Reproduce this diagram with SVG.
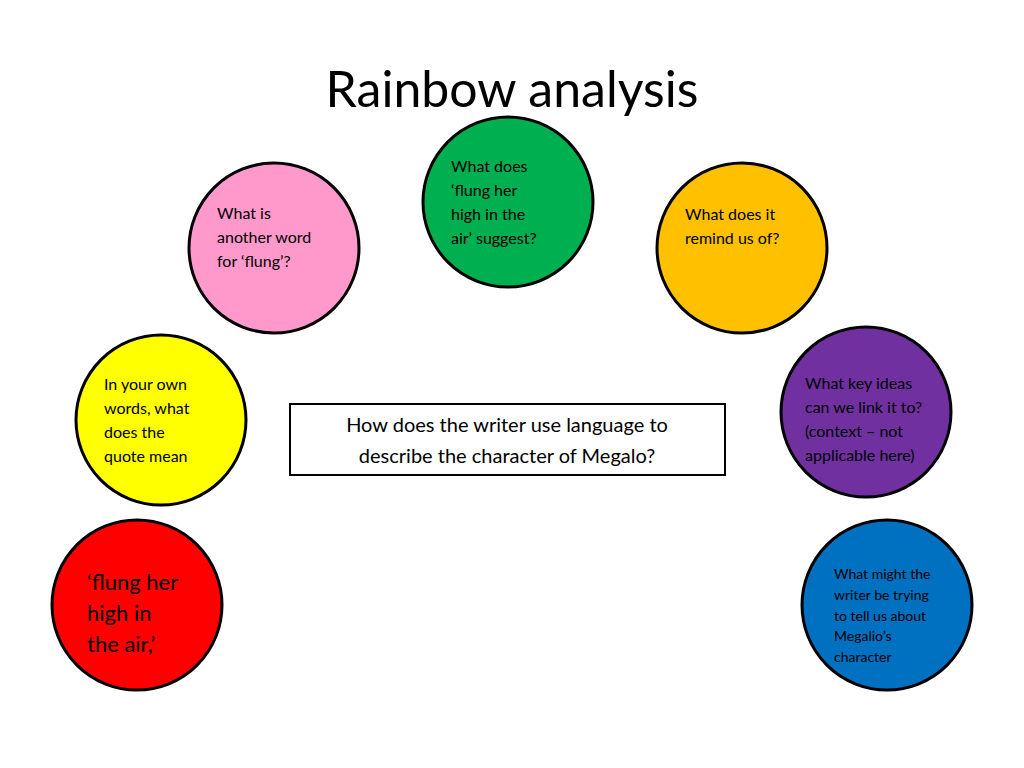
<svg xmlns="http://www.w3.org/2000/svg" width="1024" height="768" viewBox="0 0 1024 768">
<style>
.c{stroke:#000;stroke-width:3}
text{font-family:Lato,"Liberation Sans",sans-serif;fill:#000}
.s{font-size:16px}
.x{font-size:14px}
</style>
<rect width="1024" height="768" fill="#fff"/>
<text x="512" y="107" font-size="50" text-anchor="middle">Rainbow analysis</text>
<g id="red"><circle class="c" cx="137" cy="605" r="85" fill="#ff0000"/><text font-size="22"><tspan x="87" y="590">‘flung her</tspan><tspan x="87" y="621">high in</tspan><tspan x="87" y="652">the air,’</tspan></text></g>
<g id="yellow"><circle class="c" cx="161" cy="420" r="85" fill="#ffff00"/><text class="s"><tspan x="104" y="390">In your own</tspan><tspan x="104" y="414">words, what</tspan><tspan x="104" y="438">does the</tspan><tspan x="104" y="462">quote mean</tspan></text></g>
<g id="pink"><circle class="c" cx="274" cy="248" r="85" fill="#ff99cc"/><text class="s"><tspan x="217" y="219">What is</tspan><tspan x="217" y="243">another word</tspan><tspan x="217" y="267">for ‘flung’?</tspan></text></g>
<g id="green"><circle class="c" cx="508" cy="202" r="85" fill="#00b050"/><text class="s"><tspan x="451" y="172">What does</tspan><tspan x="451" y="196">‘flung her</tspan><tspan x="451" y="220">high in the</tspan><tspan x="451" y="244">air’ suggest?</tspan></text></g>
<g id="orange"><circle class="c" cx="742" cy="248" r="85" fill="#ffc000"/><text class="s"><tspan x="685" y="220">What does it</tspan><tspan x="685" y="244">remind us of?</tspan></text></g>
<g id="purple"><circle class="c" cx="866" cy="412" r="85" fill="#7030a0"/><text class="s"><tspan x="805" y="389">What key ideas</tspan><tspan x="805" y="413">can we link it to?</tspan><tspan x="805" y="437">(context – not</tspan><tspan x="805" y="461">applicable here)</tspan></text></g>
<g id="blue"><circle class="c" cx="887" cy="605" r="85" fill="#0070c0"/><text class="x"><tspan x="834" y="579">What might the</tspan><tspan x="834" y="600">writer be trying</tspan><tspan x="834" y="621">to tell us about</tspan><tspan x="834" y="641">Megalio’s</tspan><tspan x="834" y="662">character</tspan></text></g>
<g id="question"><rect x="290" y="404" width="435" height="71" fill="#fff" stroke="#000" stroke-width="2"/><text font-size="20" text-anchor="middle"><tspan x="507" y="432">How does the writer use language to</tspan><tspan x="507" y="463">describe the character of Megalo?</tspan></text></g>
<g id="connectors"/>
</svg>
